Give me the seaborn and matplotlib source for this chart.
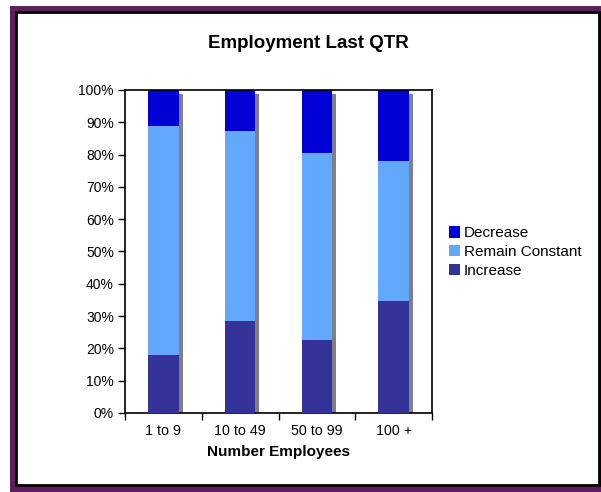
import numpy as np
import pandas as pd
import matplotlib
matplotlib.use("Agg")
import matplotlib.pyplot as plt
import matplotlib.transforms as mtransforms
from matplotlib.patches import Rectangle
import seaborn as sns

# Data (percent of firms)
categories = ["1 to 9", "10 to 49", "50 to 99", "100 +"]
increase = [18.0, 28.6, 22.6, 34.8]
remain_constant = [71.0, 58.8, 58.0, 43.3]
decrease = [11.0, 12.6, 19.4, 21.9]

df = pd.DataFrame({"Group": categories, "Increase": increase,
                   "Remain Constant": remain_constant, "Decrease": decrease})
df["lvl1"] = df["Increase"]
df["lvl2"] = df["Increase"] + df["Remain Constant"]
df["lvl3"] = df["lvl2"] + df["Decrease"]

sns.set_theme(style="white")
plt.rcParams["font.family"] = ["Liberation Sans", "DejaVu Sans"]
plt.rcParams["text.color"] = "black"
plt.rcParams["xtick.color"] = "black"
plt.rcParams["ytick.color"] = "black"
plt.rcParams["axes.labelcolor"] = "black"

fig = plt.figure(figsize=(6.01, 4.92), dpi=100)
W, H = 601, 492

# outer frame: purple band + thin black line
fig.patches.append(Rectangle((10 / W, 0), 591 / W, 486 / H, transform=fig.transFigure,
                             facecolor="#5f1f5f", edgecolor="none", zorder=0))
fig.patches.append(Rectangle((16 / W, 7 / H), 583 / W, 473 / H, transform=fig.transFigure,
                             facecolor="white", edgecolor="black", linewidth=2, zorder=0))

ax = fig.add_axes([125 / W, 79 / H, 307 / W, 323 / H])
ax.set_zorder(2)
ax.set_facecolor("white")

bar_kw = dict(width=0.4, saturation=1, linewidth=0, edgecolor="none", ax=ax)

# gray drop shadow behind each bar
sns.barplot(data=df, x="Group", y="lvl3", color="#808080", zorder=1, **bar_kw)
shadow = list(ax.patches)
off = mtransforms.offset_copy(ax.transData, fig=fig, x=4, y=-4, units="dots")
for p in shadow:
    p.set_transform(off)

sns.barplot(data=df, x="Group", y="lvl3", color="#0000D4", label="Decrease", zorder=2, **bar_kw)
sns.barplot(data=df, x="Group", y="lvl2", color="#63A8FF", label="Remain Constant", zorder=3, **bar_kw)
sns.barplot(data=df, x="Group", y="lvl1", color="#333399", label="Increase", zorder=4, **bar_kw)

ax.set_ylim(0, 100)
ax.set_xlim(-0.5, 3.5)
ax.set_yticks(np.arange(0, 101, 10))
ax.set_yticklabels([f"{v}%" for v in range(0, 101, 10)], fontsize=10)
ax.set_xticks(range(4))
ax.set_xticklabels(categories, fontsize=10.3)
ax.set_xticks(np.arange(-0.5, 4, 1), minor=True)
ax.tick_params(axis="x", which="major", length=0, pad=8)
ax.tick_params(axis="x", which="minor", length=5, width=1, color="black", direction="out", bottom=True)
ax.tick_params(axis="y", length=5, width=1, color="black", direction="out", left=True, pad=3)
for s in ax.spines.values():
    s.set_visible(True)
    s.set_color("black")
    s.set_linewidth(1.2)

ax.set_ylabel("")
ax.set_xlabel("Number Employees", fontsize=11, fontweight="bold", labelpad=5)
fig.text(308 / W, 1 - 43 / H, "Employment Last QTR", ha="center", va="center",
         fontsize=13.5, fontweight="bold")

handles, labels = ax.get_legend_handles_labels()
leg = ax.legend(handles, labels, loc="center left", bbox_to_anchor=(449 / W, 1 - 252 / H),
                bbox_transform=fig.transFigure, frameon=False, fontsize=11,
                handlelength=0.75, handleheight=0.75, handletextpad=0.2, labelspacing=0.3,
                borderaxespad=0, borderpad=0)

fig.savefig("out.png", dpi=100)
